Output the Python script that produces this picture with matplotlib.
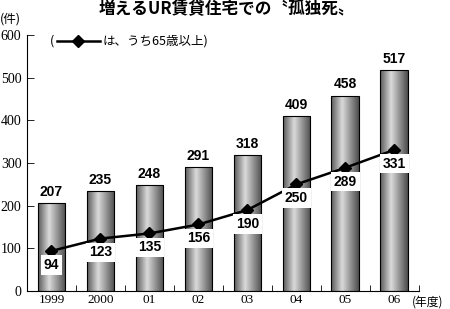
import numpy as np
import matplotlib.pyplot as plt
from matplotlib.lines import Line2D

plt.rcParams['font.family'] = ['Noto Sans CJK JP', 'DejaVu Sans']

years = ['1999', '2000', '01', '02', '03', '04', '05', '06']
total = [207, 235, 248, 291, 318, 409, 458, 517]
over65 = [94, 123, 135, 156, 190, 250, 289, 331]

fig = plt.figure(figsize=(4.5, 3.09), dpi=100)
ax = fig.add_axes([0.06, 0.058, 0.871, 0.829])

x = np.arange(len(years))
width = 0.57

# cylinder-like shading for bars
grad = np.concatenate([np.linspace(0.35, 0.85, 40), np.linspace(0.85, 0.3, 60)])
grad = grad.reshape(1, -1)
bars = ax.bar(x, total, width=width, color='none', edgecolor='black', linewidth=0.8, zorder=3)
for b in bars:
    im = ax.imshow(grad, cmap='gray', vmin=0, vmax=1, aspect='auto',
                   extent=[b.get_x(), b.get_x() + b.get_width(), 0, b.get_height()],
                   zorder=2)
    im.set_clip_path(b)

ax.plot(x, over65, color='black', marker='D', markersize=6, linewidth=1.8, zorder=4)

for i in range(len(years)):
    ax.annotate(str(total[i]), (x[i], total[i]), xytext=(0, 3), textcoords='offset points',
                ha='center', va='bottom', fontsize=10, family='Liberation Sans', weight='bold')
    ax.annotate(str(over65[i]), (x[i], over65[i]), xytext=(0, -10), textcoords='offset points',
                ha='center', va='center', fontsize=10, family='Liberation Sans', weight='bold',
                zorder=5,
                bbox=dict(boxstyle='square,pad=0.2', fc='white', ec='none'))

ax.set_xlim(-0.5, 7.5)
ax.set_ylim(0, 600)
ax.set_yticks(range(0, 601, 100))
ax.set_xticks(x)
ax.set_xticklabels(years, family='Liberation Serif', fontsize=9.5)
ax.set_xticks(np.arange(0.5, 7.6, 1), minor=True)
ax.tick_params(axis='x', which='major', length=0, pad=2)
ax.tick_params(axis='x', which='minor', direction='in', length=4, width=0.6)
ax.tick_params(axis='y', direction='in', length=5, width=0.6, pad=4)
for lab in ax.get_yticklabels():
    lab.set_family('Liberation Serif')
    lab.set_fontsize(10)
ax.spines['top'].set_visible(False)
ax.spines['right'].set_visible(False)
ax.spines['left'].set_linewidth(0.8)
ax.spines['bottom'].set_linewidth(0.8)

fig.text(0.505, 0.972, '増えるUR賃貸住宅での〝孤独死〟', ha='center', va='center',
         fontsize=12, weight='bold')
fig.text(0.0, 0.94, '(件)', ha='left', va='center', fontsize=9)
fig.text(0.915, 0.022, '(年度)', ha='left', va='center', fontsize=8.5)

# legend
fig.text(0.11, 0.866, '(', ha='left', va='center', fontsize=9)
leg_line = Line2D([0.127, 0.222], [0.866, 0.866], transform=fig.transFigure,
                  color='black', linewidth=1.8)
leg_mark = Line2D([0.174], [0.866], transform=fig.transFigure, color='black',
                  marker='D', markersize=6)
fig.add_artist(leg_line)
fig.add_artist(leg_mark)
fig.text(0.228, 0.866, 'は、うち65歳以上)', ha='left', va='center', fontsize=9)

fig.savefig('out.png', dpi=100)
